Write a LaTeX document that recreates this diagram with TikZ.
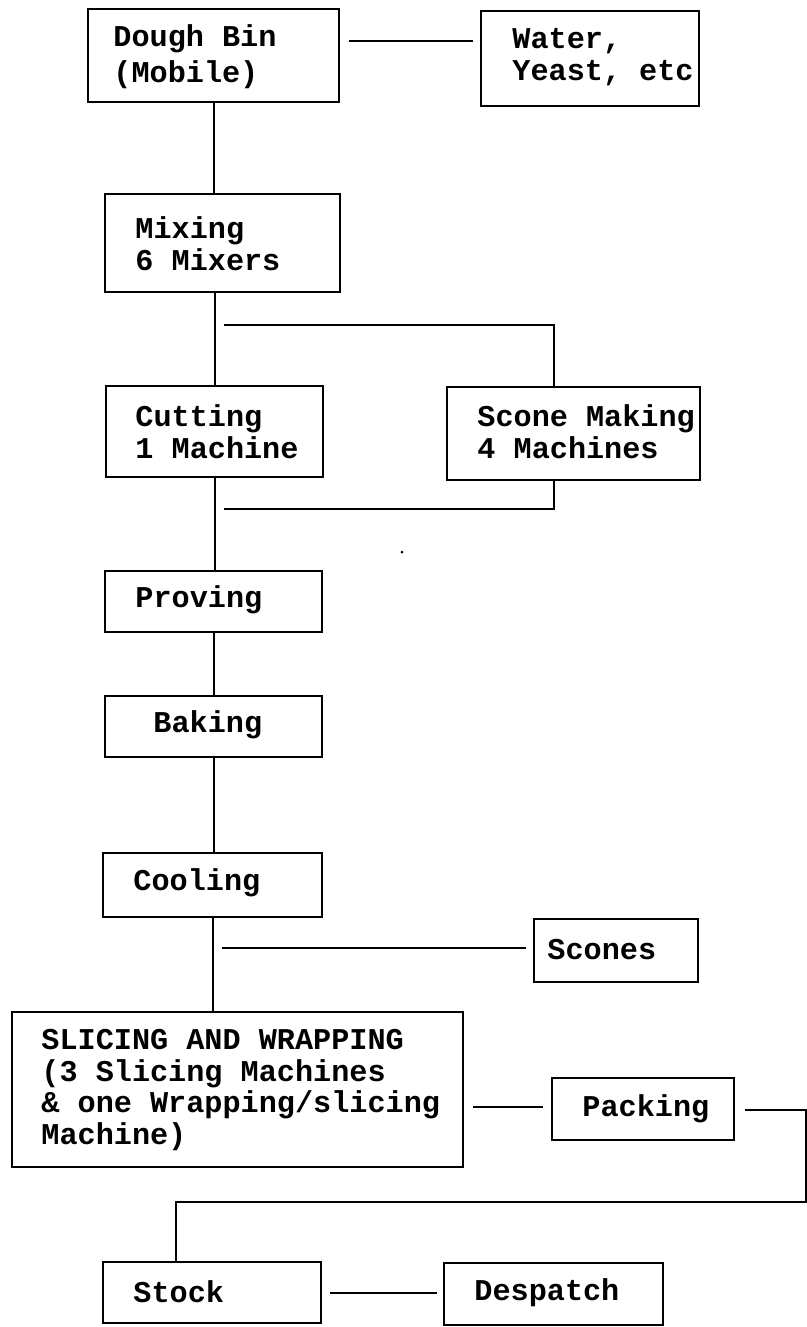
\documentclass[tikz,border=0pt]{standalone}
\usepackage{fontspec}
\setmainfont{Liberation Mono}
\newcommand\pbox[5]{%
  \pgfmathsetmacro\bw{(#4-#2)/2}%
  \pgfmathsetmacro\bh{(#5-#3)/2}%
  \node[box,minimum width=\bw pt,minimum height=\bh pt] (#1) at ({(#2+#4)/2},{(#3+#5)/2}) {};}
\begin{document}
\begin{tikzpicture}[x=0.5pt,y=-0.5pt,
  box/.style={draw, line width=1pt, inner sep=0pt},
  txt/.style={font=\bfseries\fontsize{15.1}{15.9}\selectfont, align=left, inner sep=0pt, anchor=west},
  ln/.style={line width=1pt}]
\useasboundingbox (0,0) rectangle (807,1327);
% boxes
\pbox{dough}{88}{9}{339}{102}
\pbox{water}{481}{11}{699}{106}
\pbox{mixing}{105}{194}{340}{292}
\pbox{cutting}{106}{386}{323}{477}
\pbox{scone}{447}{387}{700}{480}
\pbox{proving}{105}{571}{322}{632}
\pbox{baking}{105}{696}{322}{757}
\pbox{cooling}{103}{853}{322}{917}
\pbox{scones}{534}{919}{698}{982}
\pbox{slicing}{12}{1012}{463}{1167}
\pbox{packing}{552}{1078}{734}{1140}
\pbox{stock}{103}{1262}{321}{1323}
\pbox{despatch}{444}{1263}{663}{1325}
% texts
\node[txt] (dough-t) at (113,57) {Dough Bin\\[2pt](Mobile)};
\node[txt] (water-t) at (512,57) {Water,\\Yeast, etc};
\node[txt] (mixing-t) at (135,244) {Mixing\\6 Mixers};
\node[txt] (cutting-t) at (135,432) {Cutting\\1 Machine};
\node[txt] (scone-t) at (477,432) {Scone Making\\4 Machines};
\node[txt] (proving-t) at (135,600) {Proving};
\node[txt] (baking-t) at (153,725) {Baking};
\node[txt] (cooling-t) at (133,883) {Cooling};
\node[txt] (scones-t) at (547,950) {Scones};
\node[txt] (slicing-t) at (41,1090) {SLICING AND WRAPPING\\(3 Slicing Machines\\\& one Wrapping/slicing\\Machine)};
\node[txt] (packing-t) at (582,1109) {Packing};
\node[txt] (stock-t) at (133,1292) {Stock};
\node[txt] (despatch-t) at (474,1293) {Despatch};
% free-end coordinates
\coordinate (dw1) at (349,41);
\coordinate (dw2) at (473,41);
\coordinate (bt1) at (224,325);
\coordinate (bt2) at (554,325);
\coordinate (bb1) at (224,509);
\coordinate (bb2) at (554,509);
\coordinate (sc1) at (222,948);
\coordinate (sc2) at (526,948);
\coordinate (sp1) at (473,1107);
\coordinate (sp2) at (543,1107);
\coordinate (pk1) at (745,1110);
\coordinate (pk2) at (806,1110);
\coordinate (pk3) at (806,1202);
\coordinate (pk4) at (176,1202);
\coordinate (sd1) at (330,1293);
\coordinate (sd2) at (437,1293);
% connectors
\draw[ln] (dw1) -- (dw2);
\draw[ln] (dough.south) -- (dough.south |- mixing.north);
\draw[ln] (mixing.south -| cutting.north) -- (cutting.north);
\draw[ln] (bt1) -- (bt2) -- (bt2 |- scone.north);
\draw[ln] (cutting.south) -- (cutting.south |- proving.north);
\draw[ln] (bb1) -- (bb2) -- (bb2 |- scone.south);
\draw[ln] (proving.south) -- (baking.north);
\draw[ln] (baking.south) -- (baking.south |- cooling.north);
\draw[ln] (cooling.south) -- (cooling.south |- slicing.north);
\draw[ln] (sc1) -- (sc2);
\draw[ln] (sp1) -- (sp2);
\draw[ln] (pk1) -- (pk2) -- (pk3) -- (pk4) -- (pk4 |- stock.north);
\draw[ln] (sd1) -- (sd2);
\fill (402,552) circle (1.5);
\end{tikzpicture}
\end{document}
